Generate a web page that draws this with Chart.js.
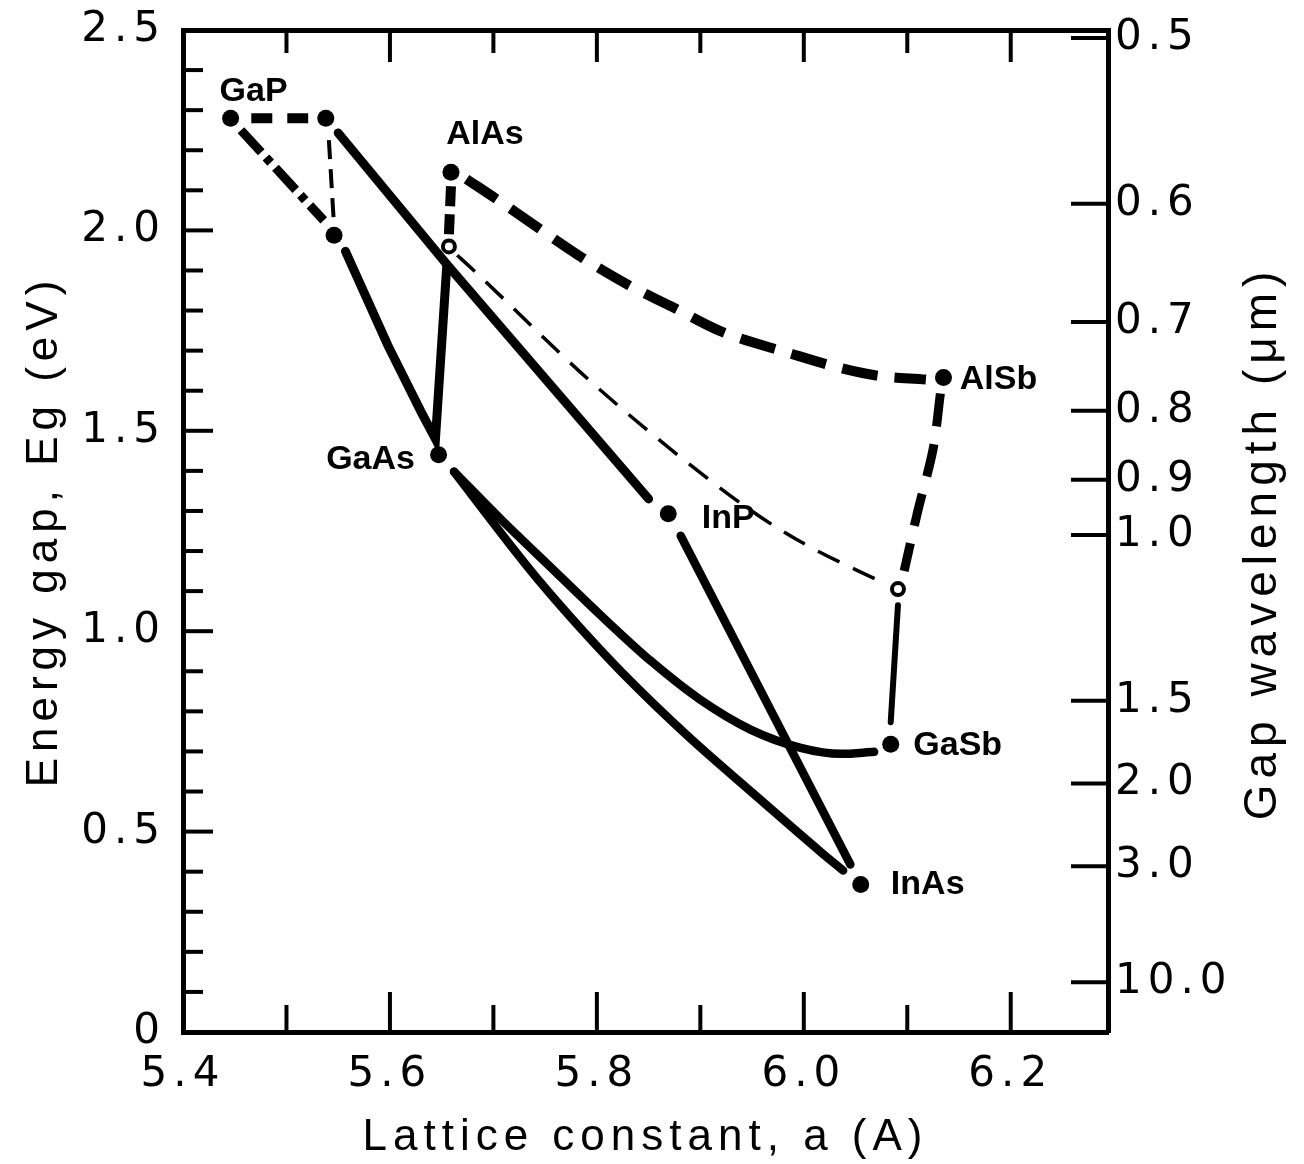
<!DOCTYPE html>
<html>
<head>
<meta charset="utf-8">
<script src="https://cdn.jsdelivr.net/npm/chart.js@4/dist/chart.umd.min.js"></script>
<style>
  html, body { margin: 0; padding: 0; background: #ffffff; }
  #wrap { width: 1304px; height: 1164px; position: relative; }
</style>
</head>
<body>
<div id="wrap"><canvas id="chart"></canvas></div>
<script>
// ---------------- data ----------------
const xTitle = 'Lattice constant, a (A)';
const yTitle = 'Energy gap, Eg (eV)';
const y2Title = 'Gap wavelength (\u03bcm)';

const xMin = 5.4, xMax = 6.294;
const yMin = 0, yMax = 2.5;

const xTickValues = [5.4, 5.6, 5.8, 6.0, 6.2];
const xMinorTickValues = [5.5, 5.7, 5.9, 6.1];
const yTickValues = [0, 0.5, 1.0, 1.5, 2.0, 2.5];
const yMinorTickValues = [0.1, 0.2, 0.3, 0.4, 0.6, 0.7, 0.8, 0.9, 1.1, 1.2, 1.3, 1.4,
                          1.6, 1.7, 1.8, 1.9, 2.1, 2.2, 2.3, 2.4];
const wavelengthTickValues = [0.5, 0.6, 0.7, 0.8, 0.9, 1.0, 1.5, 2.0, 3.0, 10.0];
const wavelengthTickLabels = ['0.5', '0.6', '0.7', '0.8', '0.9', '1.0', '1.5', '2.0', '3.0', '10.0'];
const hcOverE = 1.24; // wavelength (um) = 1.24 / Eg (eV)

// labelled binary compounds
const compoundNames = ['GaP', 'AlAs', 'AlSb', 'GaAs', 'InP', 'GaSb', 'InAs'];
const compoundA  = [5.446, 5.659, 6.135, 5.647, 5.869, 6.084, 6.055];
const compoundEg = [2.280, 2.145, 1.633, 1.440, 1.293, 0.718, 0.368];

// unlabelled filled dots and open circles
const extraDotA  = [5.538, 5.546];
const extraDotEg = [2.280, 1.988];
const openDotA  = [5.657, 6.091];
const openDotEg = [1.960, 1.105];

// curves
const gapTopDashA  = [5.466, 5.521];
const gapTopDashEg = [2.280, 2.280];

const gapDashDotA  = [5.456, 5.536];
const gapDashDotEg = [2.250, 2.025];

const cornerThinA  = [5.541, 5.546];
const cornerThinEg = [2.225, 2.010];

const cornerInPA  = [5.550, 5.655, 5.850];
const cornerInPEg = [2.243, 1.915, 1.330];

const spikeA  = [5.557, 5.598, 5.630, 5.644, 5.655];
const spikeEg = [1.948, 1.713, 1.548, 1.480, 1.915];

const alAsDropA  = [5.659, 5.657];
const alAsDropEg = [2.110, 1.990];

const alAsAlSbA  = [5.674, 5.702, 5.744, 5.787, 5.831, 5.876, 5.920, 5.987, 6.038, 6.070, 6.118];
const alAsAlSbEg = [2.128, 2.080, 2.005, 1.930, 1.863, 1.805, 1.748, 1.693, 1.655, 1.638, 1.628];

const indirectA  = [5.665, 5.679, 5.794, 5.910, 5.961, 6.004, 6.079];
const indirectEg = [1.938, 1.905, 1.623, 1.375, 1.280, 1.213, 1.118];

const alSbDropA  = [6.132, 6.125, 6.110, 6.097];
const alSbDropEg = [1.593, 1.455, 1.298, 1.150];

const gaSbRiseA  = [6.091, 6.084];
const gaSbRiseEg = [1.065, 0.773];

const gaAsGaSbA  = [5.662, 5.707, 5.756, 5.804, 5.852, 5.900, 5.949, 5.997, 6.036, 6.068];
const gaAsGaSbEg = [1.398, 1.280, 1.158, 1.039, 0.926, 0.829, 0.754, 0.709, 0.694, 0.699];

const gaAsInAsA  = [5.662, 5.688, 5.717, 5.746, 5.785, 5.825, 5.888, 5.952, 6.016, 6.038];
const gaAsInAsEg = [1.398, 1.310, 1.213, 1.120, 1.005, 0.895, 0.738, 0.593, 0.450, 0.403];

const inPInAsA  = [5.881, 6.045];
const inPInAsEg = [1.238, 0.418];

// ---------------- styles / layout (not data) ----------------
const labelOffsets = {
  GaP: [23, -27], AlAs: [34, -38], AlSb: [55, 2], GaAs: [-68, 5],
  InP: [60, 5], GaSb: [67, 1], InAs: [67, 0]
};
const tickFont = { family: '"DejaVu Sans", sans-serif', size: 42 };
const titleFont = { family: '"Liberation Sans", Arial, sans-serif', size: 44 };

function pts(a, e) { return a.map((v, i) => ({ x: v, y: e[i] })); }

function lineDs(a, e, width, dash, extra) {
  return Object.assign({
    data: pts(a, e), showLine: true, pointRadius: 0, pointHoverRadius: 0,
    borderColor: '#000', backgroundColor: '#000', borderWidth: width,
    borderDash: dash, fill: false, tension: 0, order: 2,
    borderCapStyle: dash.length ? 'butt' : 'round', borderJoinStyle: 'round'
  }, extra || {});
}

const datasets = [
  { label: 'compounds', data: pts(compoundA, compoundEg), showLine: false,
    pointRadius: 8.5, pointBackgroundColor: '#000', pointBorderWidth: 0, order: 0 },
  { label: 'extra dots', data: pts(extraDotA, extraDotEg), showLine: false,
    pointRadius: 8.5, pointBackgroundColor: '#000', pointBorderWidth: 0, order: 0 },
  { label: 'open dots', data: pts(openDotA, openDotEg), showLine: false,
    pointRadius: 6, pointBackgroundColor: '#fff', pointBorderColor: '#000',
    pointBorderWidth: 4, order: 0 },
  lineDs(gapTopDashA, gapTopDashEg, 10, [21, 15]),
  lineDs(gapDashDotA, gapDashDotEg, 9, [30, 7, 7, 7]),
  lineDs(cornerThinA, cornerThinEg, 4, [19, 10]),
  lineDs(cornerInPA, cornerInPEg, 9, []),
  lineDs(spikeA, spikeEg, 9, [], { borderJoinStyle: 'miter' }),
  lineDs(alAsDropA, alAsDropEg, 10, [20, 8]),
  lineDs(alAsAlSbA, alAsAlSbEg, 10, [36, 17], { cubicInterpolationMode: 'monotone' }),
  lineDs(indirectA, indirectEg, 3.5, [24, 15], { cubicInterpolationMode: 'monotone' }),
  lineDs(alSbDropA, alSbDropEg, 9, [33, 18], { tension: 0.3 }),
  lineDs(gaSbRiseA, gaSbRiseEg, 6, []),
  lineDs(gaAsGaSbA, gaAsGaSbEg, 8.5, [], { cubicInterpolationMode: 'monotone' }),
  lineDs(gaAsInAsA, gaAsInAsEg, 8.5, [], { cubicInterpolationMode: 'monotone' }),
  lineDs(inPInAsA, inPInAsEg, 8.5, [])
];

// ---------------- plugins ----------------
const paperPlugin = {
  id: 'paper',
  beforeDraw(chart) {
    const ctx = chart.ctx;
    ctx.save();
    ctx.fillStyle = '#ffffff';
    ctx.fillRect(0, 0, chart.width, chart.height);
    ctx.restore();
    ctx.letterSpacing = '6px';
  },
  beforeDatasetsDraw(chart) {
    chart.ctx.letterSpacing = '0px';
  },
  afterDraw(chart) {
    const ctx = chart.ctx;
    const xs = chart.scales.x, ys = chart.scales.y, yr = chart.scales.yRight;
    const area = chart.chartArea;
    ctx.save();
    ctx.strokeStyle = '#000';
    ctx.lineWidth = 4;
    ctx.lineCap = 'butt';
    const seg = (x1, y1, x2, y2) => { ctx.beginPath(); ctx.moveTo(x1, y1); ctx.lineTo(x2, y2); ctx.stroke(); };
    // inward ticks on the top and bottom axes
    xTickValues.forEach(v => {
      const px = xs.getPixelForValue(v);
      if (px <= area.left + 2) return;
      seg(px, area.top, px, area.top + 32);
      seg(px, area.bottom, px, area.bottom - 40);
    });
    xMinorTickValues.forEach(v => {
      const px = xs.getPixelForValue(v);
      seg(px, area.top, px, area.top + 23);
      seg(px, area.bottom, px, area.bottom - 27);
    });
    // inward ticks on the left axis
    yTickValues.forEach(v => {
      const py = ys.getPixelForValue(v);
      if (py <= area.top + 2 || py >= area.bottom - 2) return;
      seg(area.left, py, area.left + 30, py);
    });
    yMinorTickValues.forEach(v => {
      const py = ys.getPixelForValue(v);
      seg(area.left, py, area.left + 20, py);
    });
    // inward ticks on the right (wavelength) axis
    wavelengthTickValues.forEach(w => {
      const py = yr.getPixelForValue(hcOverE / w);
      seg(area.right - 37, py, area.right, py);
    });
    ctx.restore();

    // compound labels
    ctx.save();
    ctx.letterSpacing = '0px';
    ctx.fillStyle = '#000';
    ctx.font = 'bold 34px "Liberation Sans", Arial, sans-serif';
    ctx.textAlign = 'center';
    ctx.textBaseline = 'middle';
    compoundNames.forEach((name, i) => {
      const off = labelOffsets[name];
      const px = xs.getPixelForValue(compoundA[i]) + off[0];
      const py = ys.getPixelForValue(compoundEg[i]) + off[1];
      ctx.fillText(name, px, py);
    });
    ctx.restore();

    // right-hand axis title, reading bottom to top
    ctx.save();
    ctx.letterSpacing = '6px';
    ctx.fillStyle = '#000';
    ctx.font = '46px "Liberation Sans", Arial, sans-serif';
    ctx.textAlign = 'center';
    ctx.textBaseline = 'alphabetic';
    ctx.translate(area.right + 168, (area.top + area.bottom) / 2 + 12);
    ctx.rotate(-Math.PI / 2);
    ctx.fillText(y2Title, 0, 0);
    ctx.restore();
    ctx.letterSpacing = '0px';
  }
};

// ---------------- chart ----------------
const axisBorder = { display: true, width: 5, color: '#000' };
const noGrid = { display: false, drawTicks: false, tickLength: 0 };

new Chart(document.getElementById('chart'), {
  type: 'scatter',
  data: { datasets },
  options: {
    responsive: true,
    maintainAspectRatio: false,
    animation: false,
    events: [],
    layout: { padding: 0 },
    plugins: { legend: { display: false }, tooltip: { enabled: false } },
    scales: {
      x: {
        type: 'linear', position: 'bottom', min: xMin, max: xMax,
        grid: noGrid, border: axisBorder,
        afterFit: s => { s.height = 132; s.paddingLeft = 0; s.paddingRight = 0; },
        afterBuildTicks: s => { s.ticks = xTickValues.map(v => ({ value: v })); },
        ticks: { callback: v => Number(v).toFixed(1), font: tickFont, color: '#000',
                 padding: 18, maxRotation: 0, minRotation: 0, autoSkip: false },
        title: { display: true, text: xTitle, font: titleFont, color: '#000',
                 padding: { top: 0, bottom: 0 } }
      },
      xTop: {
        type: 'linear', position: 'top', min: xMin, max: xMax,
        grid: noGrid, border: axisBorder,
        afterFit: s => { s.height = 30; s.paddingLeft = 0; s.paddingRight = 0; },
        ticks: { display: false }
      },
      y: {
        type: 'linear', position: 'left', min: yMin, max: yMax,
        grid: noGrid, border: axisBorder,
        afterFit: s => { s.width = 183; s.paddingTop = 0; s.paddingBottom = 0; },
        afterBuildTicks: s => { s.ticks = yTickValues.map(v => ({ value: v })); },
        ticks: { callback: v => (v === 0 ? '0' : Number(v).toFixed(1)), font: tickFont,
                 color: '#000', padding: 17, autoSkip: false },
        title: { display: true, text: yTitle, font: titleFont, color: '#000',
                 padding: { top: 18, bottom: 0 } }
      },
      yRight: {
        type: 'linear', position: 'right', min: yMin, max: yMax,
        grid: noGrid, border: axisBorder,
        afterFit: s => { s.width = 196; s.paddingTop = 0; s.paddingBottom = 0; },
        afterBuildTicks: s => { s.ticks = wavelengthTickValues.map(w => ({ value: hcOverE / w })); },
        ticks: { callback: (v, i) => wavelengthTickLabels[i], font: tickFont, color: '#000',
                 padding: 7, autoSkip: false }
      }
    }
  },
  plugins: [paperPlugin]
});
</script>
</body>
</html>
